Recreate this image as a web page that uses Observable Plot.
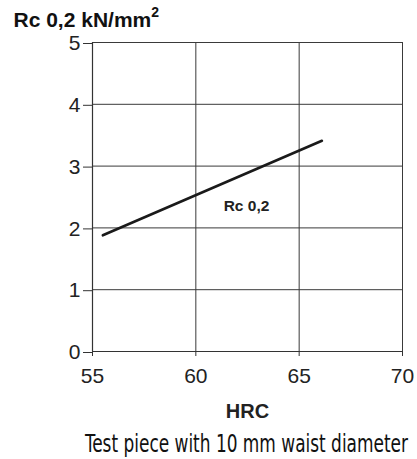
<!DOCTYPE html>
<html><head><meta charset="utf-8">
<script src="https://cdn.jsdelivr.net/npm/d3@7"></script>
<script src="https://cdn.jsdelivr.net/npm/@observablehq/plot@0.6"></script>
<style>body{margin:0;background:#fff}</style>
</head><body><div id="chart"></div>
<script>
const xTicks = [55, 60, 65, 70];
const yTicks = [0, 1, 2, 3, 4, 5];
const hrc = [55.5, 66.1];
const rc = [1.88, 3.41];
const seriesLabel = [{x: 62.45, y: 2.35, text: "Rc 0,2"}];
const titleText = "Rc 0,2 kN/mm";
const titleSup = "2";
const xLabel = "HRC";
const caption = "Test piece with 10 mm waist diameter";

const data = hrc.map((h, i) => ({hrc: h, rc: rc[i]}));

const chart = Plot.plot({
  width: 417, height: 459,
  marginTop: 42, marginBottom: 108, marginLeft: 92, marginRight: 15,
  style: {fontFamily: "Liberation Sans, Arial, sans-serif", background: "#fff", color: "#222"},
  x: {domain: [55, 70], ticks: xTicks},
  y: {domain: [0, 5], ticks: yTicks},
  marks: [
    Plot.gridX(xTicks.slice(1), {stroke: "#3a3a3a", strokeOpacity: 1, strokeWidth: 1}),
    Plot.gridY(yTicks.slice(1), {stroke: "#3a3a3a", strokeOpacity: 1, strokeWidth: 1}),
    Plot.ruleX([55], {stroke: "#333", strokeWidth: 1.2}),
    Plot.ruleY([0], {stroke: "#333", strokeWidth: 1.2}),
    Plot.axisX({ticks: xTicks, tickFormat: d3.format("d"), tickSize: 5, tickPadding: 12, fontSize: 21, label: null, stroke: "#333", fill: "#222"}),
    Plot.axisY({ticks: yTicks, tickFormat: d3.format("d"), tickSize: 9, tickPadding: 3, fontSize: 21, dy: 1, label: null, stroke: "#333", fill: "#222"}),
    Plot.line(data, {x: "hrc", y: "rc", stroke: "#1a1a1a", strokeWidth: 2.6}),
    Plot.text(seriesLabel, {x: "x", y: "y", text: "text", fontSize: 15.5, fontWeight: "bold", fill: "#222"}),
    Plot.text([titleText], {frameAnchor: "top-left", dx: -79, dy: -30, textAnchor: "start", fontSize: 21, fontWeight: "bold", fill: "#111", className: "ttl"}),
    Plot.text([xLabel], {frameAnchor: "bottom", dy: 66, fontSize: 20, fontWeight: "bold", fill: "#222"}),
    Plot.text([caption], {frameAnchor: "bottom", dx: -1, dy: 100, fontSize: 24, fontFamily: "DejaVu Sans Condensed", fill: "#111", className: "caption"})
  ]
});
document.getElementById("chart").append(chart);
d3.select(chart).selectAll(".caption text").attr("textLength", 323).attr("lengthAdjust", "spacingAndGlyphs");
d3.select(chart).selectAll(".ttl text").append("tspan").attr("font-size", 14).attr("dy", "-0.75em").text(titleSup);
</script>
</body></html>
